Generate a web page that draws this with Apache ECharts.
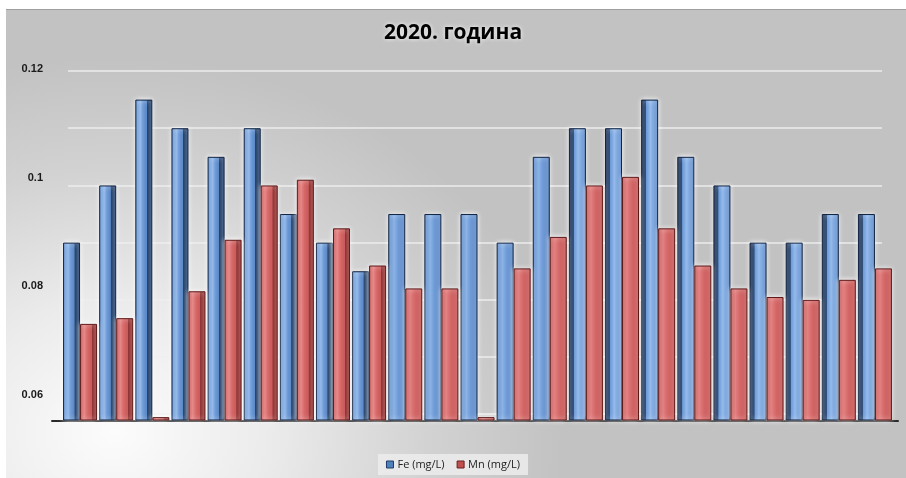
<!DOCTYPE html>
<html>
<head>
<meta charset="utf-8">
<script src="https://cdn.jsdelivr.net/npm/echarts@6/dist/echarts.min.js"></script>
<style>
  html, body { margin: 0; padding: 0; background: #ffffff; }
  #wrap { position: relative; width: 906px; height: 478px; overflow: hidden; }
  #panel {
    position: absolute; left: 6px; top: 9px; right: 0; bottom: 0;
    border-top: 1px solid #a0a0a0;
    background: radial-gradient(ellipse 50% 80% at 12% 90%, #fcfcfc 0%, #ebebeb 35%, #d2d2d2 70%, #c2c2c2 100%);
  }
  #chart { position: absolute; left: 0; top: 0; width: 906px; height: 478px; }
</style>
</head>
<body>
<div id="wrap">
  <div id="panel"></div>
  <div id="chart"></div>
</div>
<script>
// Sampling points (23 per year), values in mg/L
const categories = ['1','2','3','4','5','6','7','8','9','10','11','12',
                    '13','14','15','16','17','18','19','20','21','22','23'];
const feValues = [0.090, 0.100, 0.115, 0.110, 0.105, 0.110, 0.095, 0.090, 0.085, 0.095, 0.095, 0.095,
                  0.090, 0.105, 0.110, 0.110, 0.115, 0.105, 0.100, 0.090, 0.090, 0.095, 0.095];
// points 3 and 12 fall below the 0.06 axis floor
const mnValues = [0.0758, 0.0768, 0.0595, 0.0815, 0.0905, 0.1000, 0.1010, 0.0925, 0.0860, 0.0820, 0.0820, 0.0595,
                  0.0855, 0.0910, 0.1000, 0.1015, 0.0925, 0.0860, 0.0820, 0.0805, 0.0800, 0.0835, 0.0855];
const yTicks = [0.06, 0.08, 0.10, 0.12];
const seriesNames = ['Fe (mg/L)', 'Mn (mg/L)'];

function grad(stops) {
  return { type: 'linear', x: 0, y: 0, x2: 1, y2: 0,
           colorStops: stops.map(s => ({ offset: s[0], color: s[1] })) };
}
// Front face with a side face on the right, on the left, or none (perspective)
const feRight = grad([[0,'#4a78b8'],[0.1,'#6e9cd9'],[0.3,'#92b8ea'],[0.45,'#6f9bd6'],[0.66,'#5a88c8'],[0.69,'#213c62'],[1,'#2c4d7c']]);
const feMid   = grad([[0,'#5584c4'],[0.35,'#8ab2e6'],[0.6,'#6d99d5'],[1,'#5582c2']]);
const feLeft  = grad([[0,'#16294a'],[0.28,'#2a4a78'],[0.31,'#6a98d6'],[0.55,'#95bbec'],[0.8,'#6f9bd6'],[1,'#5584c4']]);
const mnRight = grad([[0,'#c44d4d'],[0.25,'#e68282'],[0.45,'#d66868'],[0.68,'#c85858'],[0.71,'#8a2c2c'],[1,'#a23c3c']]);
const mnFront = grad([[0,'#c45252'],[0.3,'#e27d7d'],[0.6,'#d26464'],[1,'#c25050']]);

function feStyle(i) {
  return i < 9 ? feRight : (i < 14 ? feMid : feLeft);
}
function mnStyle(i) {
  return i < 9 ? mnRight : mnFront;
}

const glow = { shadowColor: 'rgba(255,255,255,0.95)', shadowBlur: 5 };

const option = {
  animation: false,
  backgroundColor: 'transparent',
  title: {
    text: '2020. година',
    left: 'center', top: 18,
    textStyle: {
      fontFamily: 'Open Sans', fontWeight: 'bold', fontSize: 21, color: '#000',
      textShadowColor: 'rgba(255,255,255,0.9)', textShadowBlur: 4
    }
  },
  legend: {
    bottom: 3, left: 'center',
    padding: [5, 8, 5, 8],
    backgroundColor: 'rgba(236,236,236,0.85)',
    itemWidth: 7, itemHeight: 7, itemGap: 12,
    icon: 'rect',
    textStyle: { fontFamily: 'Open Sans', fontSize: 11, color: '#222', padding: [0, 0, 0, -1] },
    data: [
      { name: seriesNames[0], itemStyle: { color: '#4f81bd', borderColor: '#1f3c66', borderWidth: 1 } },
      { name: seriesNames[1], itemStyle: { color: '#c0504d', borderColor: '#6a1e1e', borderWidth: 1 } }
    ]
  },
  grid: [
    // bars, sitting on the floor slightly below the 0.06 line
    { left: 62, right: 13, top: 71, bottom: 58 },
    // horizontal guide lines
    { left: 68, right: 24, top: 71, bottom: 64 },
    // value labels
    { left: 45, right: 13, top: 69, bottom: 83 },
    // floor line
    { left: 52, right: 8, top: 71, bottom: 57 }
  ],
  xAxis: [
    { type: 'category', gridIndex: 0, data: categories, show: false },
    { type: 'category', gridIndex: 1, data: categories, show: false },
    { type: 'category', gridIndex: 2, data: categories, show: false },
    { type: 'category', gridIndex: 3, data: categories,
      axisLine: { show: true, lineStyle: { color: '#2a2a2a', width: 2 } },
      axisTick: { show: false }, axisLabel: { show: false } }
  ],
  yAxis: [
    { type: 'value', gridIndex: 0, min: 0.059, max: yTicks[yTicks.length - 1],
      show: false, splitLine: { show: false } },
    { type: 'value', gridIndex: 1, min: yTicks[0], max: yTicks[yTicks.length - 1], interval: 0.01,
      axisLine: { show: false }, axisTick: { show: false }, axisLabel: { show: false },
      splitLine: { show: true, lineStyle: { color: 'rgba(238,238,238,0.95)', width: 1.5 } } },
    { type: 'value', gridIndex: 2, min: yTicks[0], max: yTicks[yTicks.length - 1], interval: 0.02,
      axisLine: { show: false }, axisTick: { show: false }, splitLine: { show: false },
      axisLabel: {
        margin: 2, fontFamily: 'Liberation Sans', fontWeight: 'bold', fontSize: 11, color: '#1a1a1a',
        formatter: v => String(+v.toFixed(2))
      } },
    { type: 'value', gridIndex: 3, show: false, splitLine: { show: false } }
  ],
  series: [
    {
      name: seriesNames[0], type: 'bar', xAxisIndex: 0, yAxisIndex: 0,
      barWidth: 17, barGap: '0%', z: 3,
      itemStyle: { color: '#4f81bd' },
      data: feValues.map((v, i) => ({
        value: v,
        itemStyle: Object.assign({ color: feStyle(i), borderColor: '#0f2240', borderWidth: 1 }, glow)
      }))
    },
    {
      name: seriesNames[1], type: 'bar', xAxisIndex: 0, yAxisIndex: 0,
      barWidth: 17, barGap: '0%', z: 4,
      itemStyle: { color: '#c0504d' },
      data: mnValues.map((v, i) => ({
        value: v,
        itemStyle: Object.assign({ color: mnStyle(i), borderColor: '#5e1818', borderWidth: 1 }, glow)
      }))
    }
  ]
};

const chart = echarts.init(document.getElementById('chart'), null, { renderer: 'canvas' });
chart.setOption(option);
</script>
</body>
</html>
